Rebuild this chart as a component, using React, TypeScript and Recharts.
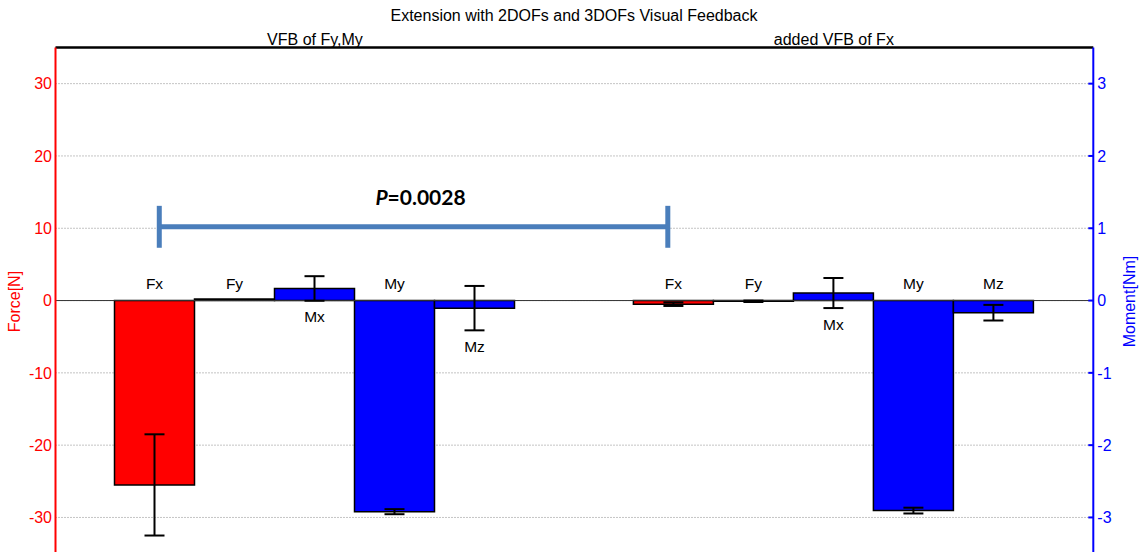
import React from "react";
import {
  BarChart,
  Bar,
  XAxis,
  YAxis,
  CartesianGrid,
  ErrorBar,
  LabelList,
  ReferenceLine,
  ReferenceDot,
} from "recharts";

// ---- data ----
const groups = ["VFB of Fy,My", "added VFB of Fx"];
const seriesNames = ["Fx", "Fy", "Mx", "My", "Mz"];

// forces [N]
const fxMean = [-25.5, -0.5];
const fxErr = [7.0, 0.25];
const fyMean = [0.2, -0.1];
const fyErr = [0, 0.1];
// moments [Nm]
const mxMean = [0.167, 0.104];
const mxErr = [0.17, 0.208];
const myMean = [-2.92, -2.905];
const myErr = [0.035, 0.04];
const mzMean = [-0.105, -0.168];
const mzErr = [0.307, 0.108];

const forceTicks = [-30, -20, -10, 0, 10, 20, 30];
const momentTicks = [-3, -2, -1, 0, 1, 2, 3];
const forceDomain: [number, number] = [-35, 35];
const momentDomain: [number, number] = [-3.5, 3.5];

const title = "Extension with 2DOFs and 3DOFs Visual Feedback";
const pValue = "0.0028";
// significance bracket (in group-position units and force units)
const bracketFrom = -0.3;
const bracketTo = 0.68;
const bracketLevel = 10.2;
const bracketHalfTick = 2.9;

const data = groups.map((g, i) => ({
  group: g,
  slot: i,
  Fx: fxMean[i],
  FxErr: fxErr[i],
  Fy: fyMean[i],
  FyErr: fyErr[i],
  Mx: mxMean[i],
  MxErr: mxErr[i],
  My: myMean[i],
  MyErr: myErr[i],
  Mz: mzMean[i],
  MzErr: mzErr[i],
}));

const FONT = '"Liberation Sans", Arial, Helvetica, sans-serif';
const RED = "#ff0000";
const BLUE = "#0000ff";
const BRACKET = "#4a7ebb";

const makeLabel = (name: string, means: number[], errs: number[]) => (props: any) => {
  const vb = props.viewBox || props;
  const x = Number(vb.x ?? props.x);
  const y = Number(vb.y ?? props.y);
  const w = Number(vb.width ?? props.width);
  const h = Number(vb.height ?? props.height);
  const i = props.index ?? 0;
  const v = means[i];
  const e = errs[i];
  const top = Math.min(y, y + h);
  const bottom = Math.max(y, y + h);
  const ppu = v !== 0 ? (bottom - top) / Math.abs(v) : 0;
  const zeroY = v >= 0 ? bottom : top;
  const cx = x + w / 2;
  const upper = (v + e) * ppu;
  const cy = upper > 5 ? zeroY - Math.min(0, v - e) * ppu + 16 : zeroY - 17;
  return (
    <text
      x={cx}
      y={cy}
      textAnchor="middle"
      dominantBaseline="central"
      fontFamily={FONT}
      fontSize={15.5}
      fill="#000"
    >
      {name}
    </text>
  );
};

const ForceLabel = (p: any) => {
  const vb = p.viewBox;
  const cx = vb.x + 15;
  const cy = vb.y + vb.height / 2 + 1;
  return (
    <text
      x={cx}
      y={cy}
      transform={`rotate(-90, ${cx}, ${cy})`}
      textAnchor="middle"
      dominantBaseline="central"
      fontFamily={FONT}
      fontSize={16}
      fill={RED}
    >
      Force[N]
    </text>
  );
};

const MomentLabel = (p: any) => {
  const vb = p.viewBox;
  const cx = vb.x + 36;
  const cy = vb.y + vb.height / 2 + 1;
  return (
    <text
      x={cx}
      y={cy}
      transform={`rotate(-90, ${cx}, ${cy})`}
      textAnchor="middle"
      dominantBaseline="central"
      fontFamily={FONT}
      fontSize={16}
      fill={BLUE}
    >
      Moment[Nm]
    </text>
  );
};

const PLabel = (p: any) => {
  const vb = p.viewBox;
  return (
    <text
      x={vb.x + 7}
      y={vb.y - 22}
      textAnchor="middle"
      fontFamily={'Lato, "Liberation Sans", Arial, sans-serif'}
      fontSize={21}
      fontWeight="bold"
      fill="#000"
    >
      <tspan fontStyle="italic">P</tspan>
      {"=" + pValue}
    </text>
  );
};

const barCommon = {
  stroke: "#000",
  strokeWidth: 1.5,
  barSize: 80,
  isAnimationActive: false,
};

const errCommon = {
  width: 10,
  stroke: "#000",
  strokeWidth: 2,
};

export default function App() {
  return (
    <div
      style={{
        position: "fixed",
        left: 0,
        top: 0,
        width: 1139,
        height: 552,
        overflow: "hidden",
        background: "#fff",
      }}
    >
      <div
        style={{
          position: "absolute",
          top: 7,
          left: 274,
          width: 600,
          textAlign: "center",
          fontFamily: FONT,
          fontSize: 16,
          lineHeight: "18px",
          color: "#000",
        }}
      >
        {title}
      </div>
      <BarChart
        width={1139}
        height={555}
        data={data}
        barGap={0}
        margin={{ top: 27.5, right: 0, bottom: 1.4, left: 0 }}
      >
        <CartesianGrid
          yAxisId="left"
          vertical={false}
          stroke="#888"
          strokeDasharray="1 2"
        />
        <XAxis
          dataKey="group"
          orientation="top"
          height={20}
          axisLine={false}
          tickLine={false}
          tickSize={0}
          tickMargin={2.5}
          interval={0}
          tick={{ fill: "#000", fontFamily: FONT, fontSize: 16 }}
        />
        <XAxis
          xAxisId="pos"
          dataKey="slot"
          type="number"
          domain={[-0.5, 1.5]}
          allowDataOverflow
          hide
        />
        <YAxis
          yAxisId="left"
          orientation="left"
          width={55.5}
          domain={forceDomain}
          ticks={forceTicks}
          allowDataOverflow
          axisLine={{ stroke: RED, strokeWidth: 2 }}
          tickLine={false}
          tickSize={0}
          tickMargin={3.5}
          tick={{ fill: RED, fontFamily: FONT, fontSize: 16 }}
          label={ForceLabel}
        />
        <YAxis
          yAxisId="right"
          orientation="right"
          width={45.7}
          domain={momentDomain}
          ticks={momentTicks}
          allowDataOverflow
          axisLine={{ stroke: BLUE, strokeWidth: 2 }}
          tickLine={{ stroke: BLUE, strokeWidth: 2 }}
          tickSize={-5}
          tickMargin={9}
          tick={{ fill: BLUE, fontFamily: FONT, fontSize: 16 }}
          label={MomentLabel}
        />
        <ReferenceLine yAxisId="left" y={0} stroke="#333" strokeWidth={1} />
        <ReferenceLine yAxisId="left" y={forceDomain[1]} stroke="#000" strokeWidth={2.5} />

        <Bar dataKey="Fx" yAxisId="left" fill={RED} {...barCommon}>
          <ErrorBar dataKey="FxErr" {...errCommon} />
          <LabelList content={makeLabel(seriesNames[0], fxMean, fxErr)} />
        </Bar>
        <Bar dataKey="Fy" yAxisId="left" fill={RED} {...barCommon}>
          <ErrorBar dataKey="FyErr" {...errCommon} />
          <LabelList content={makeLabel(seriesNames[1], fyMean, fyErr)} />
        </Bar>
        <Bar dataKey="Mx" yAxisId="right" fill={BLUE} {...barCommon}>
          <ErrorBar dataKey="MxErr" {...errCommon} />
          <LabelList content={makeLabel(seriesNames[2], mxMean, mxErr)} />
        </Bar>
        <Bar dataKey="My" yAxisId="right" fill={BLUE} {...barCommon}>
          <ErrorBar dataKey="MyErr" {...errCommon} />
          <LabelList content={makeLabel(seriesNames[3], myMean, myErr)} />
        </Bar>
        <Bar dataKey="Mz" yAxisId="right" fill={BLUE} {...barCommon}>
          <ErrorBar dataKey="MzErr" {...errCommon} />
          <LabelList content={makeLabel(seriesNames[4], mzMean, mzErr)} />
        </Bar>

        <ReferenceLine
          xAxisId="pos"
          yAxisId="left"
          ifOverflow="visible"
          segment={[
            { x: bracketFrom, y: bracketLevel },
            { x: bracketTo, y: bracketLevel },
          ]}
          stroke={BRACKET}
          strokeWidth={5}
        />
        <ReferenceLine
          xAxisId="pos"
          yAxisId="left"
          ifOverflow="visible"
          segment={[
            { x: bracketFrom, y: bracketLevel - bracketHalfTick },
            { x: bracketFrom, y: bracketLevel + bracketHalfTick },
          ]}
          stroke={BRACKET}
          strokeWidth={5}
        />
        <ReferenceLine
          xAxisId="pos"
          yAxisId="left"
          ifOverflow="visible"
          segment={[
            { x: bracketTo, y: bracketLevel - bracketHalfTick },
            { x: bracketTo, y: bracketLevel + bracketHalfTick },
          ]}
          stroke={BRACKET}
          strokeWidth={5}
        />
        <ReferenceDot
          xAxisId="pos"
          yAxisId="left"
          ifOverflow="visible"
          x={(bracketFrom + bracketTo) / 2}
          y={bracketLevel}
          r={0}
          fill="none"
          stroke="none"
          label={PLabel}
        />
      </BarChart>
    </div>
  );
}
